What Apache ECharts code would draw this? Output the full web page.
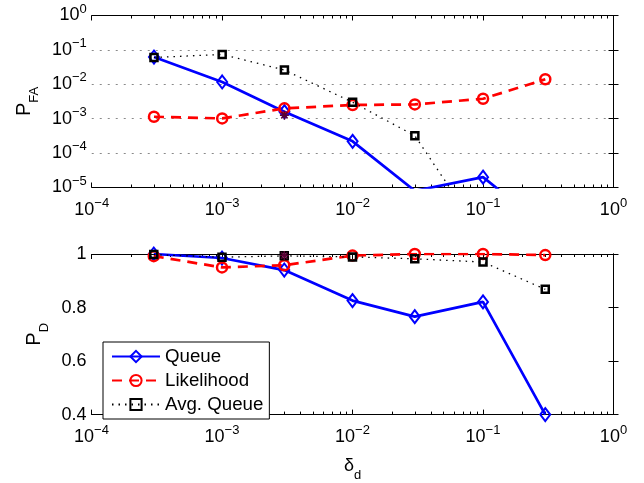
<!DOCTYPE html>
<html>
<head>
<meta charset="utf-8">
<script src="https://cdn.jsdelivr.net/npm/echarts@6/dist/echarts.min.js"></script>
<style>
html,body{margin:0;padding:0;background:#fff;}
#chart{width:644px;height:483px;}
</style>
</head>
<body>
<div id="chart"></div>
<script>
// ---- data ----
const deltaD = [3e-4, 1e-3, 3e-3, 1e-2, 3e-2, 1e-1, 3e-1];
const pfaQueue = [0.062, 0.0117, 1.6e-3, 2.2e-4, 8e-6, 2.0e-5, 7e-7];
const pfaLikelihood = [1.14e-3, 1.02e-3, 2.0e-3, 2.5e-3, 2.6e-3, 3.8e-3, 0.014];
const pfaAvgQueue = [0.06, 0.074, 0.026, 3.0e-3, 3.2e-4, 3.5e-7, 1e-7];
const pdQueue = [1.0, 0.985, 0.94, 0.826, 0.766, 0.821, 0.40];
const pdLikelihood = [0.992, 0.95, 0.958, 0.994, 1.0, 1.0, 0.996];
const pdAvgQueue = [0.998, 0.988, 0.993, 0.989, 0.982, 0.97, 0.868];
const starX = [3e-3];
const starPfa = [1.26e-3];
const starPd = [0.994];
const seriesNames = ['Queue', 'Likelihood', 'Avg. Queue'];
const pdTickLabels = {0.4: '0.4', 0.6: '0.6', 0.8: '0.8', 1: '1'};

// minor tick positions (log10 space) for x axes
const minorLog = [];
for (let k = -4; k < 0; k++) for (let m = 2; m <= 9; m++) minorLog.push(Math.log10(m) + k);

const FONT = 'Liberation Sans, Arial, Helvetica, sans-serif';
const pair = (xs, ys) => xs.map((x, i) => [x, ys[i]]);

const powRich = {
  b: {fontSize: 18, lineHeight: 18, verticalAlign: 'middle', fontFamily: FONT, color: '#000'},
  e: {fontSize: 13, lineHeight: 13, verticalAlign: 'middle', padding: [0, 0, 13, 0], fontFamily: FONT, color: '#000'}
};
function powLabel(v) {
  const e = Math.round(Math.log10(v));
  return '{b|10}{e|' + (e < 0 ? '\u2212' + (-e) : String(e)) + '}';
}

const grids = [
  {left: 91.5, top: 15.5, width: 522, height: 172},
  {left: 91.5, top: 254, width: 522, height: 166}
];

function mainX(gi, pos, labels, name) {
  return {
    type: 'log', logBase: 10, gridIndex: gi, position: pos, min: 1e-4, max: 1, splitNumber: 4,
    axisLine: {show: true, lineStyle: {color: '#000', width: 1}},
    axisTick: {show: true, inside: true, length: 5, lineStyle: {color: '#000'}},
    axisLabel: labels ? {show: true, margin: 13.5, formatter: powLabel, rich: powRich} : {show: false},
    splitLine: {show: false},
    name: name || '', nameLocation: 'middle', nameGap: 30,
    nameTextStyle: name ? {rich: {
      d: {fontSize: 18, lineHeight: 18, verticalAlign: 'middle', fontFamily: FONT, color: '#000'},
      s: {fontSize: 13, lineHeight: 13, verticalAlign: 'middle', padding: [18, 0, 0, 0], fontFamily: FONT, color: '#000'}
    }} : {}
  };
}
function minorX(gi, pos) {
  return {
    type: 'value', gridIndex: gi, position: pos, min: -4, max: 0,
    axisLine: {show: false},
    axisTick: {show: true, inside: true, length: 3, customValues: minorLog, lineStyle: {color: '#000'}},
    axisLabel: {show: false}, splitLine: {show: false}
  };
}

const option = {
  animation: false,
  backgroundColor: '#fff',
  grid: grids,
  xAxis: [
    mainX(0, 'bottom', true),
    mainX(0, 'top', false),
    minorX(0, 'bottom'),
    minorX(0, 'top'),
    mainX(1, 'bottom', true, '{d|\u03b4}{s|d}'),
    mainX(1, 'top', false),
    minorX(1, 'bottom'),
    minorX(1, 'top')
  ],
  yAxis: [
    {
      type: 'log', logBase: 10, gridIndex: 0, position: 'left', min: 1e-5, max: 1, splitNumber: 5,
      axisLine: {show: true, lineStyle: {color: '#000'}},
      axisTick: {show: true, inside: true, length: 5, lineStyle: {color: '#000'}},
      axisLabel: {margin: 5, formatter: powLabel, rich: powRich},
      splitLine: {show: true, lineStyle: {color: '#8a8a8a', width: 1, type: [2, 6]}},
      name: '{p|P}{s|FA}', nameLocation: 'middle', nameGap: 51, nameRotate: 90,
      nameTextStyle: {rich: {
        p: {fontSize: 20, lineHeight: 20, verticalAlign: 'middle', fontFamily: FONT, color: '#000'},
        s: {fontSize: 13, lineHeight: 13, verticalAlign: 'middle', padding: [20, 0, 0, 0], fontFamily: FONT, color: '#000'}
      }}
    },
    {
      type: 'log', logBase: 10, gridIndex: 0, position: 'right', min: 1e-5, max: 1, splitNumber: 5,
      axisLine: {show: true, lineStyle: {color: '#000'}},
      axisTick: {show: true, inside: true, length: 5, lineStyle: {color: '#000'}},
      axisLabel: {show: false}, splitLine: {show: false}
    },
    {
      type: 'value', gridIndex: 1, position: 'left', min: 0.4, max: 1, interval: 0.2,
      axisLine: {show: true, lineStyle: {color: '#000'}},
      axisTick: {show: true, inside: true, length: 5, lineStyle: {color: '#000'}},
      axisLabel: {margin: 5, fontSize: 18, fontFamily: FONT, color: '#000',
        formatter: v => pdTickLabels[Math.round(v * 10) / 10] || String(v)},
      splitLine: {show: false},
      name: '{p|P}{s|D}', nameLocation: 'middle', nameGap: 42, nameRotate: 90,
      nameTextStyle: {rich: {
        p: {fontSize: 20, lineHeight: 20, verticalAlign: 'middle', fontFamily: FONT, color: '#000'},
        s: {fontSize: 13, lineHeight: 13, verticalAlign: 'middle', padding: [20, 0, 0, 0], fontFamily: FONT, color: '#000'}
      }}
    },
    {
      type: 'value', gridIndex: 1, position: 'right', min: 0.4, max: 1, interval: 0.2,
      axisLine: {show: true, lineStyle: {color: '#000'}},
      axisTick: {show: true, inside: true, length: 5, lineStyle: {color: '#000'}},
      axisLabel: {show: false}, splitLine: {show: false}
    }
  ],
  legend: {
    data: seriesNames,
    orient: 'vertical', left: 103, top: 342,
    backgroundColor: '#fff', borderColor: '#000', borderWidth: 1, borderRadius: 0,
    padding: [5, 6, 5, 8],
    itemWidth: 48, itemHeight: 14, itemGap: 5,
    textStyle: {fontSize: 18.7, lineHeight: 18, fontFamily: FONT, color: '#000'},
    selectedMode: false
  },
  series: []
};

const styles = [
  {line: {color: '#0000ff', width: 2.7, type: 'solid'}, symbol: 'diamond', size: [10, 13], item: {color: 'rgba(0,0,0,0)', borderColor: '#0000ff', borderWidth: 2}},
  {line: {color: '#ff0000', width: 2.7, type: [10, 7]}, symbol: 'circle', size: 10, item: {color: 'rgba(0,0,0,0)', borderColor: '#ff0000', borderWidth: 2.5}},
  {line: {color: '#000000', width: 1.3, type: [1.5, 5]}, symbol: 'rect', size: 7, item: {color: 'rgba(0,0,0,0)', borderColor: '#000000', borderWidth: 2.5}}
];
const topData = [pfaQueue, pfaLikelihood, pfaAvgQueue];
const botData = [pdQueue, pdLikelihood, pdAvgQueue];
[[0, 0, topData], [4, 2, botData]].forEach(([xi, yi, sets]) => {
  sets.forEach((vals, i) => {
    const st = styles[i];
    option.series.push({
      name: seriesNames[i], type: 'line', xAxisIndex: xi, yAxisIndex: yi,
      data: pair(deltaD, vals), clip: true,
      symbol: st.symbol, symbolSize: st.size, showAllSymbol: true,
      lineStyle: st.line, itemStyle: st.item,
      emphasis: {disabled: true}, silent: true
    });
  });
});
const starPath = 'path://M5,0L5,10M0,5L10,5M1.5,1.5L8.5,8.5M1.5,8.5L8.5,1.5';
[[0, 0, starPfa], [4, 2, starPd]].forEach(([xi, yi, vals]) => {
  option.series.push({
    name: 'marker', type: 'line', xAxisIndex: xi, yAxisIndex: yi,
    data: pair(starX, vals), lineStyle: {width: 0}, symbol: starPath, symbolSize: 9,
    itemStyle: {color: 'none', borderColor: '#5a0035', borderWidth: 1.5},
    emphasis: {disabled: true}, silent: true
  });
});

const chart = echarts.init(document.getElementById('chart'), null, {renderer: 'canvas'});
chart.setOption(option);
</script>
</body>
</html>
